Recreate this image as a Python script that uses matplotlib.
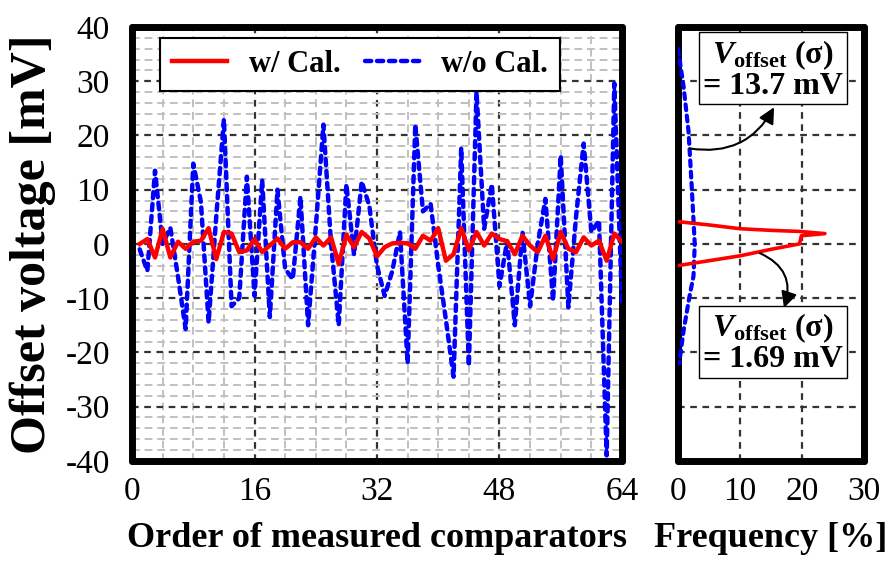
import numpy as np
import matplotlib
matplotlib.use("Agg")
import matplotlib.pyplot as plt
from matplotlib.ticker import MultipleLocator

plt.rcParams["font.family"] = ["Liberation Serif", "DejaVu Serif"]
plt.rcParams["axes.unicode_minus"] = False
plt.rcParams["mathtext.fontset"] = "custom"
plt.rcParams["mathtext.rm"] = "Liberation Serif:bold"
plt.rcParams["mathtext.it"] = "Liberation Serif:bold:italic"
plt.rcParams["mathtext.bf"] = "Liberation Serif:bold"

# comparator offsets [mV]
comparator = np.arange(1, 65)
offset_cal = [0, 0.9, -2.5, 2.8, -2.5, 0.4, -0.9, 0.4, 0.6, 2.9,
              -2.8, 2.2, 1.9, -1.5, -1.2, 0.9, -1.5, -0.3, 1.0, -0.9,
              0.3, 0.3, -0.9, 1.2, -0.3, 1.2, -3.7, 1.7, -0.6, 2.2,
              1.0, -2.3, -0.6, 0.1, 0.2, 0.1, -0.9, 1.5, 0.6, 2.9,
              -3.1, -1.9, 2.9, -1.2, 2.2, -0.3, 1.9, 0.9, 0.5, -1.9,
              1.5, -0.3, -1.5, 1.5, -2.8, 2.2, -0.9, -1.5, 1.2, -0.3,
              0.6, -3.1, 1.9, 0.4]
offset_nocal = [-1, -5, 13.5, 0, 3, -6, -15.7, 14.8, 7.7, -14.5,
                5, 23, -11.5, -10, 12.4, -9.6, 11.8, -13.5, 10, -4.6,
                -6.5, 8.7, -15, 3, 22, 0, -15, 11, -2, 11.5,
                7, -4, -9.6, -5, 2.2, -22, 22, 6, 7.4, -4,
                -14, -24.5, 17.7, -22.5, 28, 2.8, 11, -7.8, 0.5, -15,
                2.2, -11.5, 0, 8.3, -10.5, 16.3, -11.7, 5, 18.5, 2.2,
                4.3, -39, 29.6, -11]

# distribution (frequency [%] vs offset [mV])
dist_v_nocal = [36, 29, 20.7, 10.8, 0, -5.9, -10, -16, -22]
dist_f_nocal = [0, 0.9, 1.7, 2.2, 2.7, 2.5, 1.8, 0.9, 0.2]
dist_v_cal = [4.1, 3.5, 2.8, 2.5, 2.3, 1.9, 1.5, 0.0, -1.0, -2.2, -3.1, -4.0]
dist_f_cal = [0, 5, 10, 15, 19.6, 23.7, 19.9, 19.6, 15, 10, 5, 0]

sigma_labels = ["13.7", "1.69"]
xticks_main = [0, 16, 32, 48, 64]
xticks_freq = [0, 10, 20, 30]
yticks = [-40, -30, -20, -10, 0, 10, 20, 30, 40]

fig = plt.figure(figsize=(8.94, 5.62), dpi=100)
ax = fig.add_axes([0.1477, 0.18, 0.548, 0.772])
ax2 = fig.add_axes([0.7584, 0.18, 0.208, 0.772])

red = "#ff0000"
blue = "#0000ff"

ax.plot(comparator, offset_cal, color=red, lw=3.2, label="w/ Cal.", zorder=4)
ax.plot(comparator, offset_nocal, color=blue, lw=3.2, ls=(0, (1.4, 1.3)),
        dash_capstyle="round", label="w/o Cal.", zorder=3)

ax.set_xlim(0, 64)
ax.set_ylim(-40, 40)
ax.set_xticks(xticks_main)
ax.set_xticklabels([str(v) for v in xticks_main])
ax.set_yticks(yticks)
ax.set_yticklabels([str(v) for v in yticks])
ax.xaxis.set_minor_locator(MultipleLocator(4))
ax.yaxis.set_minor_locator(MultipleLocator(2))
ax.grid(which="minor", color="#c0c0c0", ls=(0, (4, 2.5)), lw=1.4, zorder=0)
ax.grid(which="major", color="#333333", ls=(0, (3, 2.5)), lw=1.6, zorder=1)
ax.set_axisbelow(True)

ax2.plot(dist_f_nocal, dist_v_nocal, color=blue, lw=3, ls=(0, (1.4, 1.3)),
         dash_capstyle="round", zorder=3)
ax2.plot(dist_f_cal, dist_v_cal, color=red, lw=2.6, zorder=4)
ax2.set_xlim(0, 30)
ax2.set_ylim(-40, 40)
ax2.set_xticks(xticks_freq)
ax2.set_xticklabels([str(v) for v in xticks_freq])
ax2.set_yticks(yticks)
ax2.set_yticklabels([])
ax2.grid(which="major", color="#333333", ls=(0, (3, 2.5)), lw=1.6, zorder=1)
ax2.set_axisbelow(True)

for a in (ax, ax2):
    for s in a.spines.values():
        s.set_linewidth(5)
        s.set_capstyle("round")
        s.set_joinstyle("round")
    a.tick_params(which="both", length=0, labelsize=24)
    a.tick_params(axis="x", pad=11)
    a.tick_params(axis="y", pad=16)

ax.set_ylabel("Offset voltage [mV]", fontsize=36, fontweight="bold", labelpad=7)
ax.set_xlabel("Order of measured comparators", fontsize=26, fontweight="bold", labelpad=11)
ax2.set_xlabel("Frequency [%]", fontsize=26, fontweight="bold", labelpad=11)

leg = ax.legend(loc="upper left", bbox_to_anchor=(0.057, 0.975), ncol=2,
                prop={"weight": "bold", "size": 22}, frameon=True,
                fancybox=False, edgecolor="black", framealpha=1,
                handlelength=1.8, columnspacing=0.8, borderpad=0.4,
                handletextpad=0.7, borderaxespad=0)
leg.get_frame().set_linewidth(1.5)

box = dict(boxstyle="square,pad=0.12", fc="white", ec="black", lw=1)
for (tx, ty), sig in zip([(15.3, 32.2), (15.3, -18.3)], sigma_labels):
    ax2.text(tx, ty, "$V_{\\mathbf{offset}}$ (σ)\n= " + sig + " mV",
             ha="center", va="center", fontsize=23, fontweight="bold",
             linespacing=1.0, bbox=box, zorder=6)

ax2.annotate("", xy=(15.5, 25.2), xytext=(1.9, 17.6),
             arrowprops=dict(arrowstyle="-|>", color="black", lw=1.5,
                             mutation_scale=24, shrinkA=0, shrinkB=0,
                             connectionstyle="arc3,rad=0.35"), zorder=5)
ax2.annotate("", xy=(17.1, -11.8), xytext=(13.2, -1.7),
             arrowprops=dict(arrowstyle="-|>", color="black", lw=1.5,
                             mutation_scale=24, shrinkA=0, shrinkB=0,
                             connectionstyle="arc3,rad=-0.45"), zorder=5)

fig.savefig("out.png", dpi=100)
